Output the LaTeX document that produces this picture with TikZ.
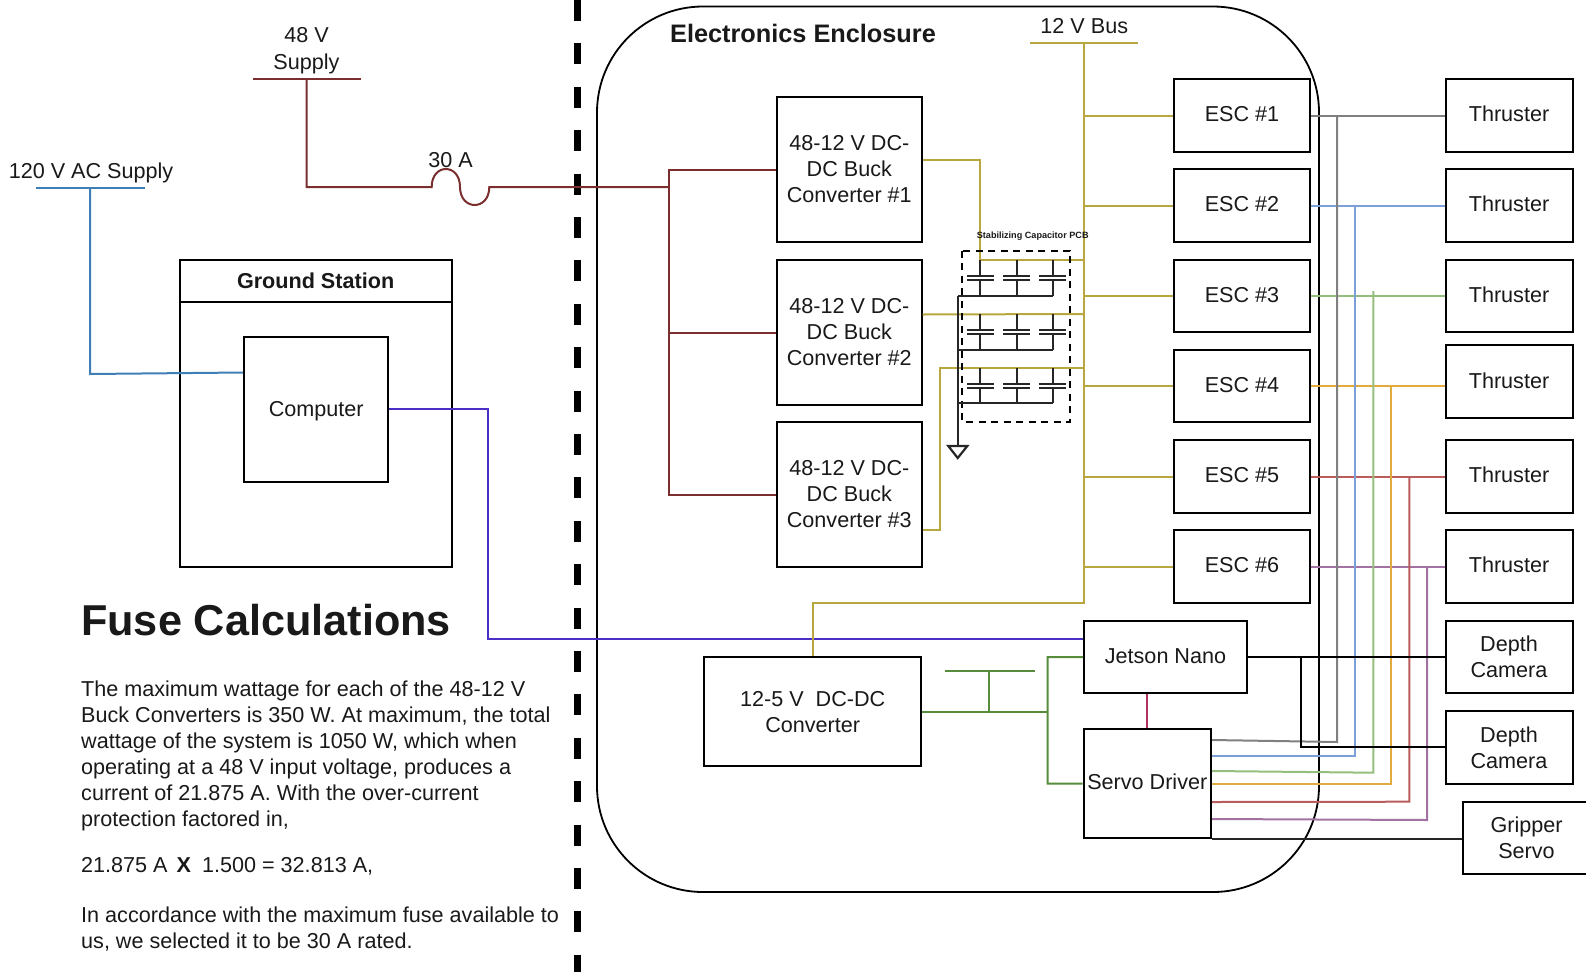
\documentclass[tikz,border=0pt]{standalone}
\usepackage{fontspec}
\setmainfont{Liberation Sans}
\definecolor{fuseline}{HTML}{7A2E2E}
\definecolor{acline}{HTML}{3F7FB5}
\definecolor{usbline}{HTML}{4B2FC4}
\definecolor{busline}{HTML}{B8A73E}
\definecolor{fiveline}{HTML}{578C3A}
\definecolor{linkline}{HTML}{B03060}
\definecolor{sigone}{HTML}{808080}
\definecolor{sigtwo}{HTML}{7C9FD8}
\definecolor{sigthree}{HTML}{95BE7C}
\definecolor{sigfour}{HTML}{E3AA40}
\definecolor{sigfive}{HTML}{B85C5C}
\definecolor{sigsix}{HTML}{A273A2}
\tikzset{
  wire/.style={line width=2pt},
  capline/.style={line width=2.2pt,black!85},
  txt/.style={font=\fontsize{21.6}{26}\selectfont,text=black!90,align=center,inner sep=0pt},
  partxt/.style={txt,align=left,anchor=north west},
}
\begin{document}
\begin{tikzpicture}[x=1pt,y=-1pt]
\useasboundingbox (0,0) rectangle (1586,972);
% divider and enclosure
\coordinate (walltop) at (577.5,0);
\coordinate (wallbot) at (577.5,972);
\draw [line width=7pt, dash pattern=on 21pt off 22.4pt] (walltop) -- (wallbot);
\draw [line width=1.8pt, rounded corners=106pt] (597,6.5) rectangle (1319,892);
\begin{scope}[every node/.style={draw,rectangle,line width=2pt,txt,minimum width=144.5pt,minimum height=145pt}]
\node (B) at (849.3,169.5) {48-12 V DC-\\DC Buck\\Converter \#1};
\node (C) at (849.3,332.5) {48-12 V DC-\\DC Buck\\Converter \#2};
\node (D) at (849.3,494.5) {48-12 V DC-\\DC Buck\\Converter \#3};
\node [text height=19pt] (PC) at (316.2,409.3) {Computer};
\end{scope}
\begin{scope}[every node/.style={draw,rectangle,line width=2pt,txt,minimum width=136pt,minimum height=72.5pt,text depth=3pt}]
\node (E1) at (1242,115.5) {ESC \#1};
\node (E2) at (1242,205.5) {ESC \#2};
\node (E3) at (1242,296) {ESC \#3};
\node (E4) at (1242,386) {ESC \#4};
\node (E5) at (1242,476.5) {ESC \#5};
\node (E6) at (1242,566.5) {ESC \#6};
\end{scope}
\begin{scope}[every node/.style={draw,rectangle,line width=2pt,txt,minimum width=127pt,minimum height=72.5pt}]
\node [text depth=3pt] (T1) at (1509,115.5) {Thruster};
\node [text depth=3pt] (T2) at (1509,205.5) {Thruster};
\node [text depth=3pt] (T3) at (1509,296) {Thruster};
\node [text depth=3pt] (T4) at (1509,381.7) {Thruster};
\node [text depth=3pt] (T5) at (1509,476.5) {Thruster};
\node [text depth=3pt] (T6) at (1509,566.5) {Thruster};
\node (Cam1) at (1509,657) {Depth\\Camera};
\node (Cam2) at (1509,747.3) {Depth\\Camera};
\node (Grip) at (1526.5,838) {Gripper\\Servo};
\end{scope}
\node [draw,line width=2pt,txt,minimum width=163pt,minimum height=72.5pt,text depth=2pt] (Nano) at (1165.5,657) {Jetson Nano};
\node [draw,line width=2pt,txt,minimum width=127.5pt,minimum height=108.5pt,text depth=4pt] (Servo) at (1147.3,783.5) {Servo Driver};
\node [draw,line width=2pt,txt,minimum width=217.5pt,minimum height=108.5pt] (Conv) at (812.7,711.7) {12-5 V\ \ DC-DC\\Converter};
\node [draw,line width=2pt,minimum width=272pt,minimum height=306.5pt,inner sep=0pt] (GS) at (316.2,413.3) {};
\node [txt,font=\fontsize{21.6}{26}\selectfont\bfseries] (GStitle) at (315.6,281) {Ground Station};
\coordinate (GSa) at (GS.west |- 0,301.5);
\coordinate (GSb) at (GS.east |- 0,301.5);
\draw [wire] (GSa) -- (GSb);
% text
\node [txt] (acl) at (91,172.5) {120 V AC Supply};
\node [txt,font=\fontsize{21.6}{27}\selectfont] (s48) at (306.5,51) {48 V\\Supply};
\node [txt] (fusel) at (450.5,160) {30 A};
\node [txt] (bus12) at (1084.3,26) {12 V Bus};
\node [txt,font=\fontsize{25.3}{30}\selectfont\bfseries] (encl) at (803,33.5) {Electronics Enclosure};
\node [txt,anchor=west,font=\fontsize{43.2}{50}\selectfont\bfseries] (fuse) at (81,620) {Fuse Calculations};
\node [partxt] (p1) at (81,681) {The maximum wattage for each of the 48-12 V\\Buck Converters is 350 W. At maximum, the total\\wattage of the system is 1050 W, which when\\operating at a 48 V input voltage, produces a\\current of 21.875 A. With the over-current\\protection factored in,};
\node [partxt] (p2) at (81,857) {21.875 A\hspace{9pt}{\bfseries X}\hspace{11pt}1.500 = 32.813 A,};
\node [partxt] (p3) at (81,907) {In accordance with the maximum fuse available to\\us, we selected it to be 30 A rated.};
% 120 V and computer
\coordinate (acl1) at (36.4,188);
\coordinate (acl2) at (144.6,188);
\coordinate (ac) at (90,188);
\coordinate (ac2) at (90,374);
\draw [wire, acline] (acl1) -- (acl2);
\draw [wire, acline] (ac) -- (ac2) -- (PC.west |- 0,372.5);
\coordinate (us1) at (488,409.3);
\coordinate (us2) at (488,639);
\draw [wire, usbline] (PC.east) -- (us1) -- (us2) -- (Nano.west |- us2);
% 48 V and fuse
\coordinate (s1) at (253,79);
\coordinate (s2) at (361,79);
\coordinate (s3) at (306.5,79);
\coordinate (s4) at (306.5,187);
\coordinate (f1) at (431.7,187);
\coordinate (f2) at (460,187);
\coordinate (f3) at (489.3,187);
\coordinate (hub) at (668.6,187);
\draw [wire, fuseline] (s1) -- (s2);
\draw [wire, fuseline] (s3) -- (s4) -- (f1) .. controls (431.7,163) and (460,163) .. (f2) .. controls (460,211) and (489.3,211) .. (f3) -- (hub);
\draw [wire, fuseline] (B.west) -| (hub);
\draw [wire, fuseline] (C.west) -| (hub);
\draw [wire, fuseline] (D.west) -| (hub);
% 12 V bus
\coordinate (b1) at (1030,42.5);
\coordinate (b2) at (1138,42.5);
\coordinate (b3) at (1084.3,42.5);
\coordinate (b4) at (1084.3,603);
\coordinate (b5) at (812.7,603);
\draw [wire, busline] (b1) -- (b2);
\draw [wire, busline] (b3) -- (b4) -- (b5) -- (Conv.north);
\draw [wire, busline] (E1.west) -- (1084.3,115.5);
\draw [wire, busline] (E2.west) -- (1084.3,205.5);
\draw [wire, busline] (E3.west) -- (1084.3,296);
\draw [wire, busline] (E4.west) -- (1084.3,386);
\draw [wire, busline] (E5.west) -- (1084.3,476.5);
\draw [wire, busline] (E6.west) -- (1084.3,566.5);
\draw [wire, busline] (B.east |- 0,160) -- (980.3,160) -- (980.3,260) -- (1084.3,260);
\draw [wire, busline] (C.east |- 0,314.5) -- (1084.3,314);
\draw [wire, busline] (D.east |- 0,530) -- (940,530) -- (940,368.3) -- (1084.3,368.3);
% capacitors
\draw [line width=2pt, dash pattern=on 7pt off 5.5pt] (962.3,250.7) rectangle (1070.3,421.7);
\draw [capline] (980.3,260) -- (980.3,276) (967,276) -- (993.6,276) (967,280) -- (993.6,280) (980.3,280) -- (980.3,295.7);
\draw [capline] (1016.7,260) -- (1016.7,276) (1003.4,276) -- (1030,276) (1003.4,280) -- (1030,280) (1016.7,280) -- (1016.7,295.7);
\draw [capline] (1052.7,260) -- (1052.7,276) (1039.4,276) -- (1066,276) (1039.4,280) -- (1066,280) (1052.7,280) -- (1052.7,295.7);
\draw [capline] (980.3,314) -- (980.3,330) (967,330) -- (993.6,330) (967,334) -- (993.6,334) (980.3,334) -- (980.3,350);
\draw [capline] (1016.7,314) -- (1016.7,330) (1003.4,330) -- (1030,330) (1003.4,334) -- (1030,334) (1016.7,334) -- (1016.7,350);
\draw [capline] (1052.7,314) -- (1052.7,330) (1039.4,330) -- (1066,330) (1039.4,334) -- (1066,334) (1052.7,334) -- (1052.7,350);
\draw [capline] (980.3,368.3) -- (980.3,384) (967,384) -- (993.6,384) (967,388) -- (993.6,388) (980.3,388) -- (980.3,403.3);
\draw [capline] (1016.7,368.3) -- (1016.7,384) (1003.4,384) -- (1030,384) (1003.4,388) -- (1030,388) (1016.7,388) -- (1016.7,403.3);
\draw [capline] (1052.7,368.3) -- (1052.7,384) (1039.4,384) -- (1066,384) (1039.4,388) -- (1066,388) (1052.7,388) -- (1052.7,403.3);
\draw [capline] (957.7,295.7) -- (1052.7,295.7);
\draw [capline] (957.7,350) -- (1052.7,350);
\draw [capline] (957.7,403.3) -- (1052.7,403.3);
\draw [capline] (957.7,295.7) -- (957.7,446);
\draw [capline] (948.3,446) -- (967.3,446) -- (957.7,458) -- cycle;
\node [txt,font=\fontsize{9.1}{10}\selectfont\bfseries] (pcb) at (1032.7,235.7) {Stabilizing Capacitor PCB};
% thruster signals
\draw [wire, sigone] (E1.east) -- (T1.west |- E1.east);
\draw [wire, sigtwo] (E2.east) -- (T2.west |- E2.east);
\draw [wire, sigthree] (E3.east) -- (T3.west |- E3.east);
\draw [wire, sigfour] (E4.east) -- (T4.west |- E4.east);
\draw [wire, sigfive] (E5.east) -- (T5.west |- E5.east);
\draw [wire, sigsix] (E6.east) -- (T6.west |- E6.east);
\draw [wire, sigone] (1337,115.5) -- (1337,742) -- (Servo.east |- 0,740);
\draw [wire, sigtwo] (1355,205.5) -- (1355,756.3) -- (Servo.east |- 0,756.3);
\draw [wire, sigthree] (1373.3,291) -- (1373.3,772.7) -- (Servo.east |- 0,771);
\draw [wire, sigfour] (1391.3,386) -- (1391.3,783.7) -- (Servo.east |- 0,783.7);
\draw [wire, sigfive] (1409.3,476.5) -- (1409.3,801.7) -- (Servo.east |- 0,802);
\draw [wire, sigsix] (1427,566.5) -- (1427,820) -- (Servo.east |- 0,819);
\draw [wire, black!85] (Servo.south east) -- (Grip.west |- Servo.south east);
% jetson
\draw [wire, black] (Nano.east) -- (Cam1.west);
\coordinate (cm) at (1301,657);
\coordinate (cm2) at (1301,747.3);
\draw [wire, black] (cm) -- (cm2) -- (Cam2.west);
\draw [wire, linkline] (Servo.north -| 1147.3,0) -- (Nano.south -| 1147.3,0);
% 5 V
\coordinate (g1) at (1047.6,657);
\coordinate (g2) at (1047.6,783.7);
\coordinate (g3) at (945,670.6);
\coordinate (g4) at (1035,670.6);
\coordinate (g5) at (989,670.6);
\coordinate (g6) at (989,711.7);
\draw [wire, fiveline] (Nano.west) -- (g1) -- (g2) -- (Servo.west);
\draw [wire, fiveline] (Conv.east) -- (g1 |- Conv.east);
\draw [wire, fiveline] (g3) -- (g4);
\draw [wire, fiveline] (g5) -- (g6);
\end{tikzpicture}
\end{document}
